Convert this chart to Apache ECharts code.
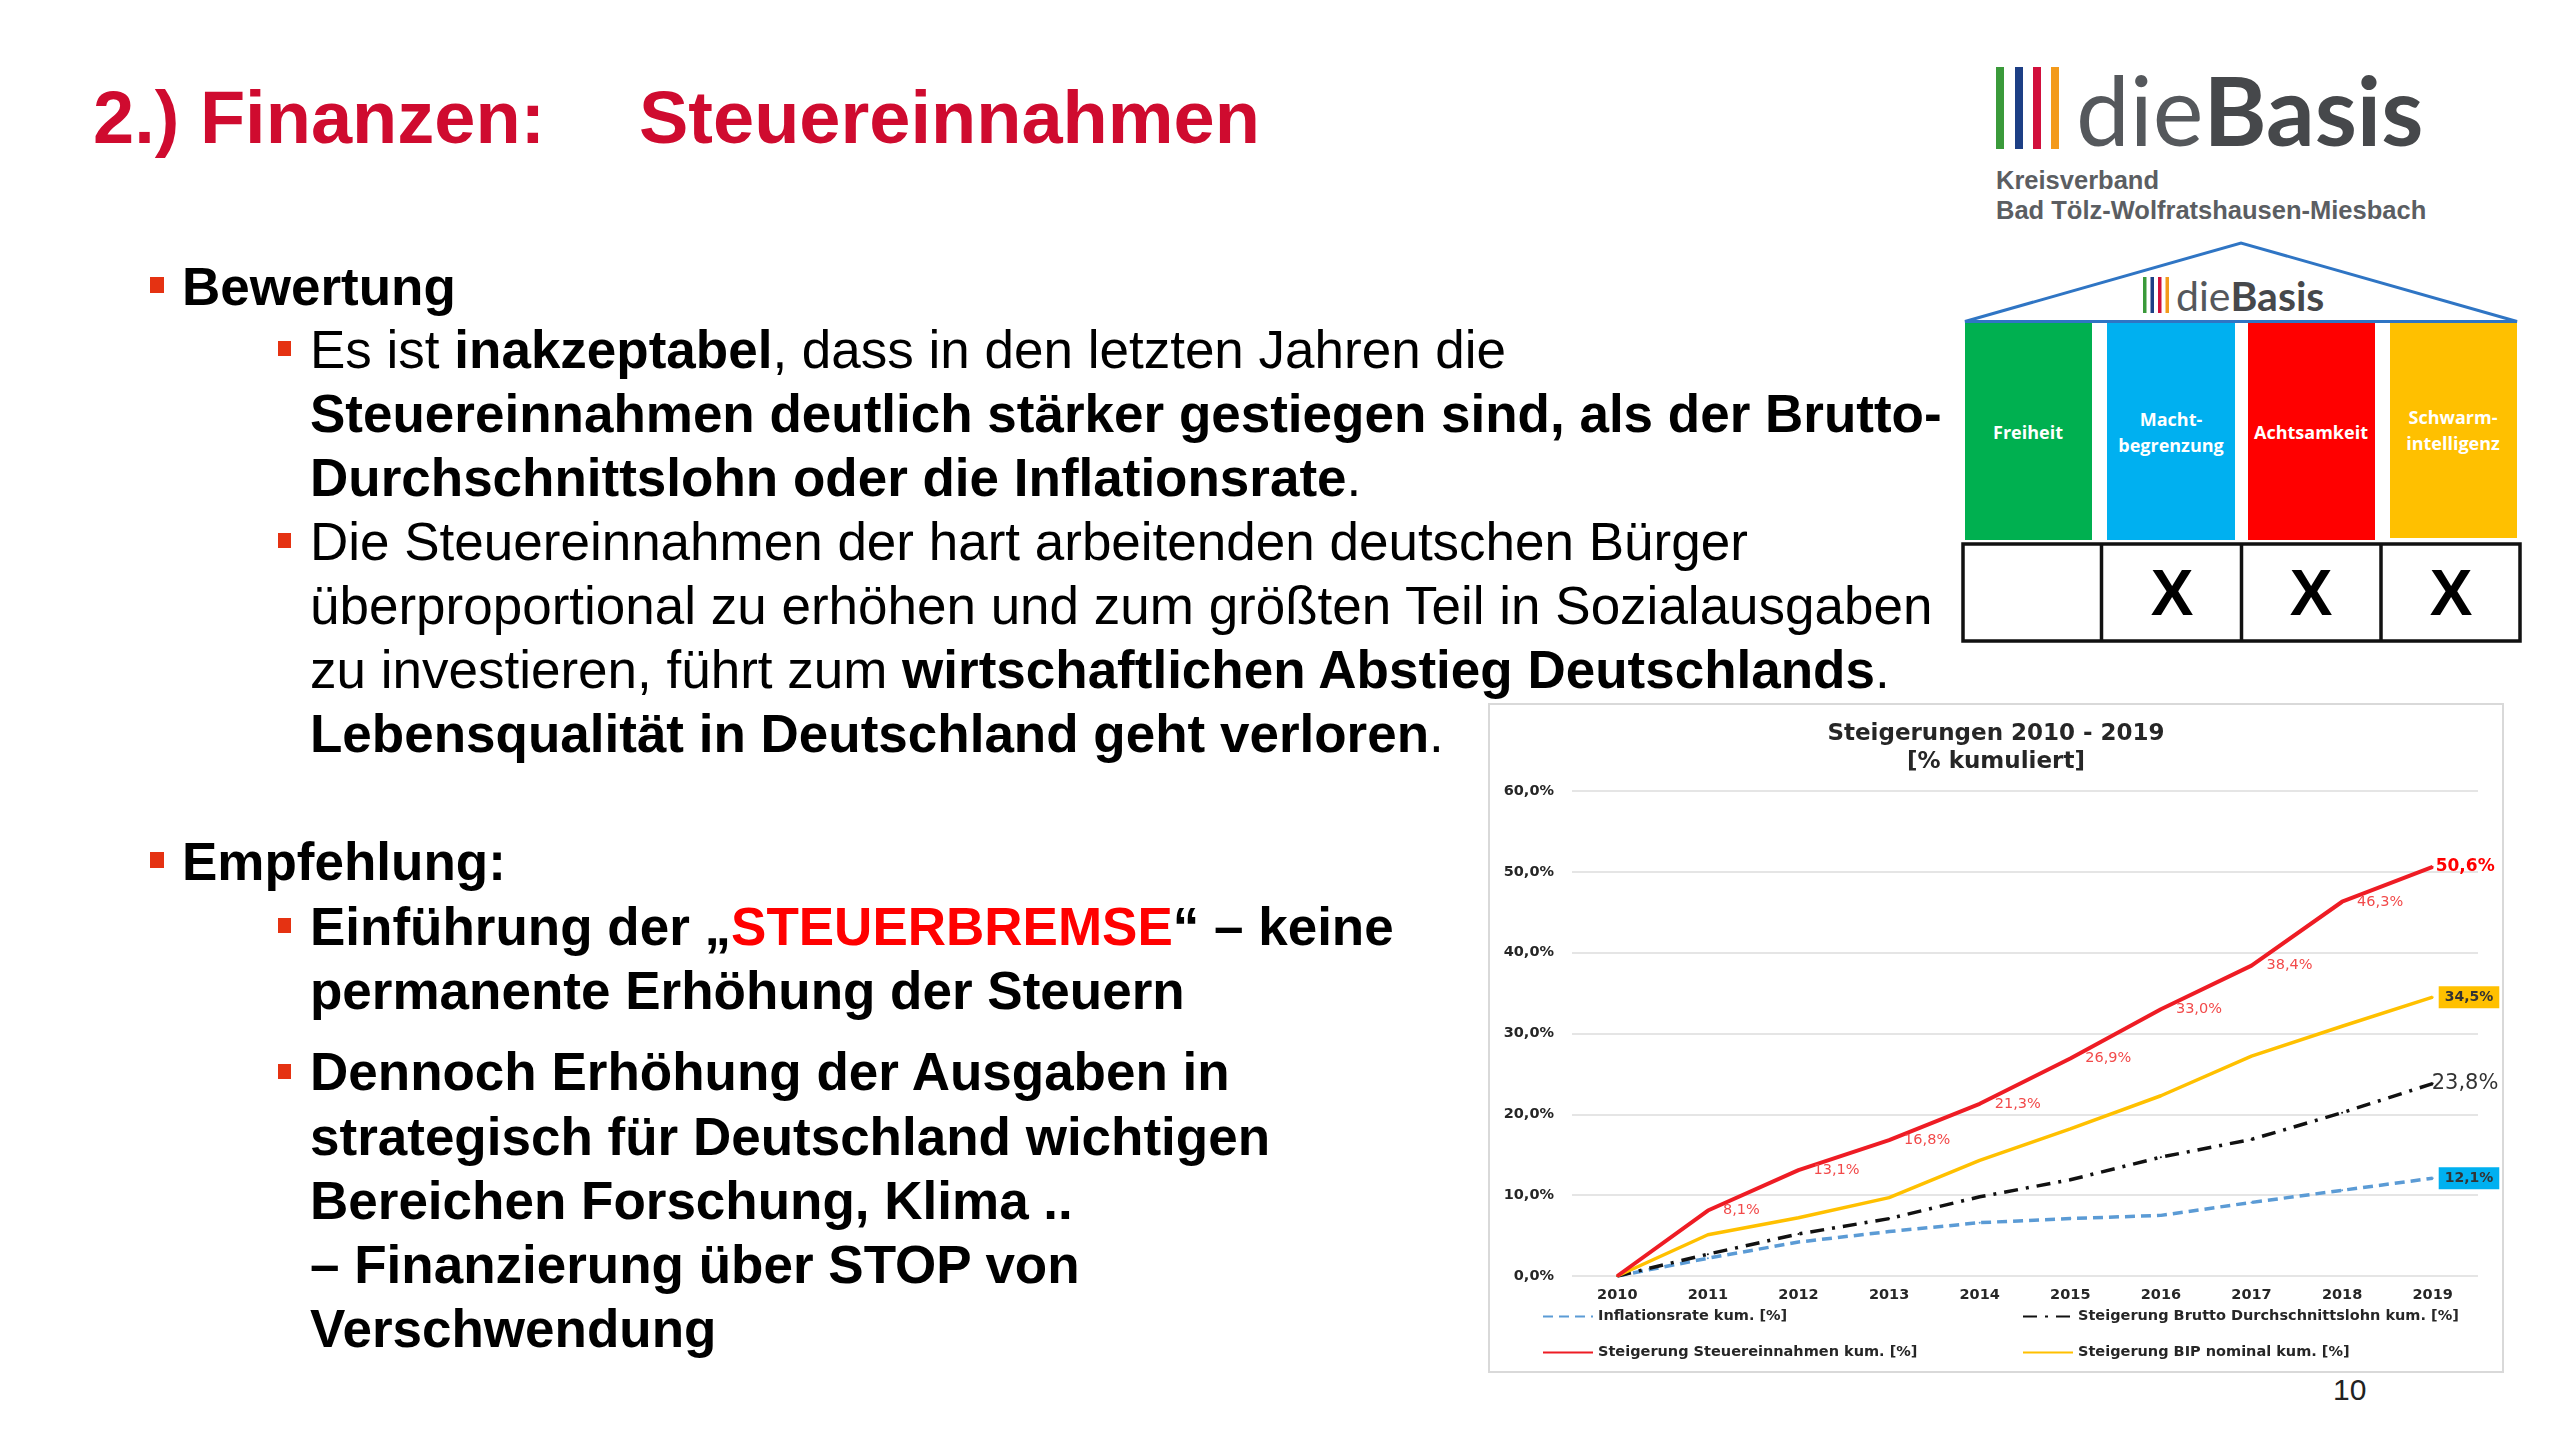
<!DOCTYPE html>
<html><head><meta charset="utf-8"><title>Steuereinnahmen</title>
<script src="https://cdn.jsdelivr.net/npm/echarts@6/dist/echarts.min.js"></script>
<style>
html,body{margin:0;padding:0;background:#fff;width:2560px;height:1439px;overflow:hidden}
#slide{position:absolute;left:0;top:0}
#chart{position:absolute;left:1490px;top:705px;width:1012px;height:666px;outline:2px solid #d9d9d9;background:#fff}
</style></head><body>
<svg id="slide" width="2560" height="1439" xmlns="http://www.w3.org/2000/svg" font-family="'Liberation Sans', Arial, sans-serif">
  <!-- title -->
  <text x="93" y="143" font-size="74" font-weight="bold" fill="#cf0b2f">2.) Finanzen:</text>
  <text x="639" y="143" font-size="74" font-weight="bold" fill="#cf0b2f">Steuereinnahmen</text>

  <!-- bullets -->
  <g fill="#e53212">
    <rect x="150" y="277" width="14" height="16"/>
    <rect x="278" y="341" width="13" height="15"/>
    <rect x="278" y="533" width="13" height="15"/>
    <rect x="150" y="852" width="14" height="16"/>
    <rect x="278" y="918" width="13" height="15"/>
    <rect x="278" y="1064" width="13" height="15"/>
  </g>
  <g font-size="53" fill="#000">
    <text x="182" y="305" font-weight="bold">Bewertung</text>
    <text x="310" y="368">Es ist <tspan font-weight="bold">inakzeptabel</tspan>, dass in den letzten Jahren die</text>
    <text x="310" y="432" font-weight="bold">Steuereinnahmen deutlich stärker gestiegen sind, als der Brutto-</text>
    <text x="310" y="496"><tspan font-weight="bold">Durchschnittslohn oder die Inflationsrate</tspan>.</text>
    <text x="310" y="560">Die Steuereinnahmen der hart arbeitenden deutschen Bürger</text>
    <text x="310" y="624">überproportional zu erhöhen und zum größten Teil in Sozialausgaben</text>
    <text x="310" y="688">zu investieren, führt zum <tspan font-weight="bold">wirtschaftlichen Abstieg Deutschlands</tspan>.</text>
    <text x="310" y="752"><tspan font-weight="bold">Lebensqualität in Deutschland geht verloren</tspan>.</text>
    <text x="182" y="880" font-weight="bold">Empfehlung:</text>
    <text x="310" y="945" font-weight="bold">Einführung der „<tspan fill="#ff0000">STEUERBREMSE</tspan>“ – keine</text>
    <text x="310" y="1009" font-weight="bold">permanente Erhöhung der Steuern</text>
    <text x="310" y="1090" font-weight="bold">Dennoch Erhöhung der Ausgaben in</text>
    <text x="310" y="1155" font-weight="bold">strategisch für Deutschland wichtigen</text>
    <text x="310" y="1219" font-weight="bold">Bereichen Forschung, Klima ..</text>
    <text x="310" y="1283" font-weight="bold">– Finanzierung über STOP von</text>
    <text x="310" y="1347" font-weight="bold">Verschwendung</text>
  </g>

  <!-- logo -->
  <rect x="1996" y="67" width="8" height="82" fill="#3a9a3a"/>
  <rect x="2015" y="67" width="8" height="82" fill="#1d3f85"/>
  <rect x="2033" y="67" width="8" height="82" fill="#d1103c"/>
  <rect x="2051" y="67" width="8" height="82" fill="#f39a1b"/>
  <text x="2076" y="146" font-family="Lato, 'Open Sans', sans-serif" font-size="96" fill="#55585c">die<tspan font-weight="bold" fill="#46484b">Basis</tspan></text>
  <g font-family="'Liberation Sans', Arial, sans-serif" font-size="25.5" font-weight="bold" fill="#5b5e62">
    <text x="1996" y="189">Kreisverband</text>
    <text x="1996" y="219">Bad Tölz-Wolfratshausen-Miesbach</text>
  </g>

  <!-- house -->
  <polygon points="1965,321.5 2241,243 2517,321.5" fill="none" stroke="#2f75c4" stroke-width="3"/>
  <rect x="2143" y="277" width="3.5" height="36" fill="#3a9a3a"/>
  <rect x="2150.5" y="277" width="3.5" height="36" fill="#1d3f85"/>
  <rect x="2158" y="277" width="3.5" height="36" fill="#d1103c"/>
  <rect x="2165.5" y="277" width="3.5" height="36" fill="#f39a1b"/>
  <text x="2176" y="311" font-family="Lato, 'Open Sans', sans-serif" font-size="41" fill="#55585c">die<tspan font-weight="bold" fill="#46484b">Basis</tspan></text>
  <rect x="1965" y="323" width="127" height="217" fill="#00b050"/>
  <rect x="2107" y="323" width="128" height="217" fill="#00b0f0"/>
  <rect x="2248" y="323" width="127" height="217" fill="#ff0000"/>
  <rect x="2390" y="323" width="127" height="215" fill="#ffc000"/>
  <g font-family="'Open Sans', sans-serif" font-size="18" font-weight="bold" fill="#fff" text-anchor="middle">
    <text x="2028" y="439">Freiheit</text>
    <text x="2171" y="426">Macht-</text>
    <text x="2171" y="452">begrenzung</text>
    <text x="2311" y="439">Achtsamkeit</text>
    <text x="2453" y="424">Schwarm-</text>
    <text x="2453" y="450">intelligenz</text>
  </g>
  <rect x="1963" y="544" width="557" height="97" fill="none" stroke="#111" stroke-width="3.5"/>
  <line x1="2101.5" y1="544" x2="2101.5" y2="641" stroke="#111" stroke-width="3.5"/>
  <line x1="2241.5" y1="544" x2="2241.5" y2="641" stroke="#111" stroke-width="3.5"/>
  <line x1="2381" y1="544" x2="2381" y2="641" stroke="#111" stroke-width="3.5"/>
  <g font-size="64" font-weight="bold" fill="#000" text-anchor="middle">
    <text x="2172" y="615">X</text>
    <text x="2311" y="615">X</text>
    <text x="2451" y="615">X</text>
  </g>

  <!-- page number -->
  <text x="2333" y="1400" font-family="'Liberation Sans Narrow', 'Liberation Sans', sans-serif" font-size="30" fill="#222">10</text>
</svg>
<div id="chart"></div>
<script>
const years = ['2010', '2011', '2012', '2013', '2014', '2015', '2016', '2017', '2018', '2019'];
const inflation = [0, 2.2, 4.2, 5.5, 6.6, 7.1, 7.5, 9.1, 10.6, 12.1];
const lohn = [0, 2.7, 5.2, 7.1, 9.8, 11.9, 14.7, 16.9, 20.2, 23.8];
const steuer = [0, 8.1, 13.1, 16.8, 21.3, 26.9, 33.0, 38.4, 46.3, 50.6];
const bip = [0, 5.1, 7.2, 9.7, 14.3, 18.2, 22.3, 27.2, 30.9, 34.5];
const yMin = 0, yMax = 60, yStep = 10;

const names = {
  infl: 'Inflationsrate kum. [%]',
  lohn: 'Steigerung Brutto Durchschnittslohn kum. [%]',
  steuer: 'Steigerung Steuereinnahmen kum. [%]',
  bip: 'Steigerung BIP nominal kum. [%]'
};
const FONT = 'DejaVu Sans';
const fmt = v => v.toFixed(1).replace('.', ',') + '%';
const last = years.length - 1;

function lastLabelData(arr, labelCfg) {
  return arr.map((v, i) => i === last ? { value: v, label: Object.assign({ show: true, formatter: p => fmt(p.value) }, labelCfg) } : v);
}

const steuerData = steuer.map((v, i) => {
  if (i === 0) return { value: v, label: { show: false } };
  if (i === last) return { value: v, label: { fontSize: 17, fontWeight: 'bold', color: '#ff0000', distance: 2 } };
  return v;
});

const chart = echarts.init(document.getElementById('chart'));
const legendBase = {
  orient: 'horizontal', itemWidth: 50, itemHeight: 4, selectedMode: false,
  itemStyle: { opacity: 0 },
  textStyle: { fontFamily: FONT, fontSize: 14.5, fontWeight: 'bold', color: '#262626' }
};
chart.setOption({
  animation: false,
  textStyle: { fontFamily: FONT },
  title: {
    text: 'Steigerungen 2010 - 2019\n[% kumuliert]',
    left: 'center', top: 10,
    textStyle: { fontFamily: FONT, fontSize: 23, fontWeight: 'bold', color: '#262626', lineHeight: 28 }
  },
  legend: [
    Object.assign({ data: [names.infl], left: 47, top: 599 }, legendBase),
    Object.assign({ data: [names.lohn], left: 527, top: 599 }, legendBase),
    Object.assign({ data: [names.steuer], left: 47, top: 635 }, legendBase),
    Object.assign({ data: [names.bip], left: 527, top: 635 }, legendBase)
  ],
  grid: { left: 82, right: 24, top: 86, bottom: 95, containLabel: false },
  xAxis: {
    type: 'category', data: years, boundaryGap: true,
    axisLine: { show: false }, axisTick: { show: false },
    axisLabel: { fontFamily: FONT, fontSize: 14.5, fontWeight: 'bold', color: '#262626', margin: 12 }
  },
  yAxis: {
    type: 'value', min: yMin, max: yMax, interval: yStep,
    axisLine: { show: false }, axisTick: { show: false },
    axisLabel: { fontFamily: FONT, fontSize: 14.5, fontWeight: 'bold', color: '#262626', margin: 18, formatter: v => fmt(v) },
    splitLine: { lineStyle: { color: '#dcdcdc', width: 1.5 } }
  },
  series: [
    {
      name: names.infl, type: 'line', data: lastLabelData(inflation, {
        position: 'right', distance: 5, backgroundColor: '#00b0f0', padding: [4, 6],
        fontSize: 14, fontWeight: 'bold', color: '#333'
      }),
      symbol: 'circle', symbolSize: 2, itemStyle: { color: '#5b9bd5' },
      lineStyle: { color: '#5b9bd5', width: 3.5, type: [10, 6] }, z: 2
    },
    {
      name: names.lohn, type: 'line', data: lastLabelData(lohn, {
        position: 'right', distance: -2, fontSize: 21, color: '#333'
      }),
      symbol: 'circle', symbolSize: 2, itemStyle: { color: '#111' },
      lineStyle: { color: '#111', width: 3.5, type: [14, 8, 3, 8] }, z: 3
    },
    {
      name: names.bip, type: 'line', data: lastLabelData(bip, {
        position: 'right', distance: 5, backgroundColor: '#ffc000', padding: [4, 6],
        fontSize: 14, fontWeight: 'bold', color: '#333'
      }),
      symbol: 'circle', symbolSize: 2, itemStyle: { color: '#ffc000' },
      lineStyle: { color: '#ffc000', width: 3.5 }, z: 4
    },
    {
      name: names.steuer, type: 'line', data: steuerData,
      symbol: 'circle', symbolSize: 2, itemStyle: { color: '#ee1c24' },
      lineStyle: { color: '#ee1c24', width: 4 }, z: 5,
      label: { show: true, position: 'right', distance: 14, fontSize: 14.5, color: '#f24a4a', formatter: p => fmt(p.value) }
    }
  ]
});
</script>
</body></html>
